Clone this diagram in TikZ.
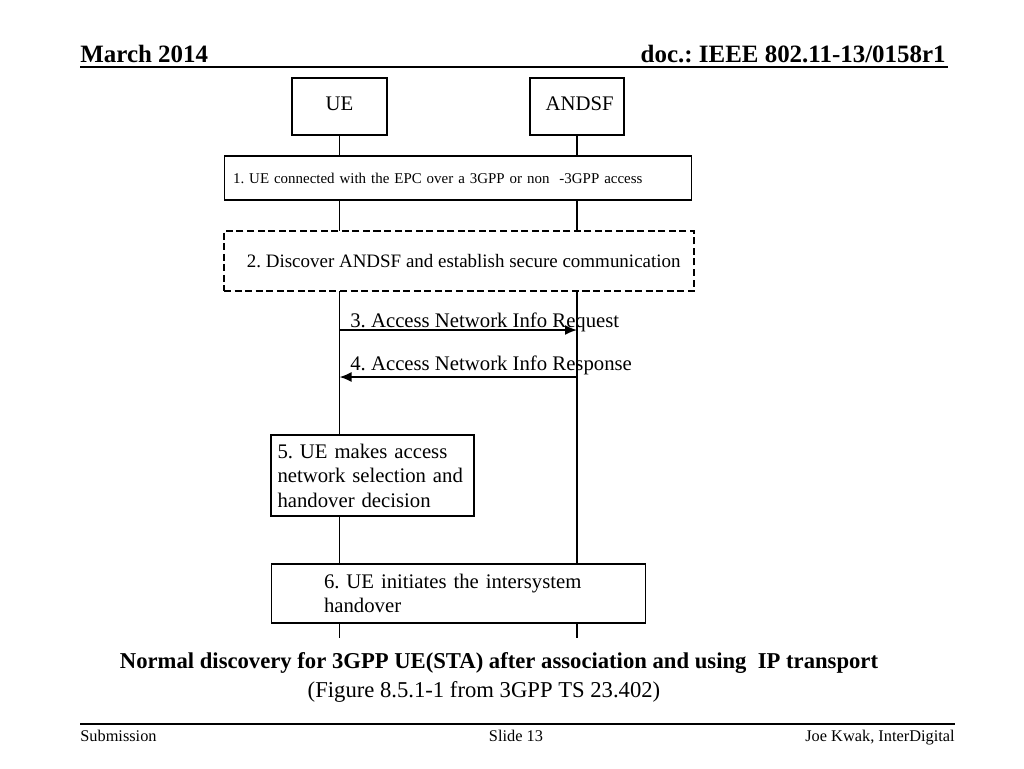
\documentclass[tikz,border=0pt]{standalone}
\usepackage{fontspec}
\setmainfont{Liberation Serif}
\usetikzlibrary{arrows, arrows.meta, backgrounds}
\frenchspacing
\newcommand\stepfont{\fontsize{11.8pt}{14pt}\selectfont}
\newcommand\raisedtext[1]{\raisebox{0.12cm}{#1}}
\tikzstyle{entity} = [rectangle, draw=black, line width=0.6pt, fill=white, minimum width=1.9cm, minimum height=1.14cm, font=\stepfont]
\tikzstyle{stepbox} = [rectangle, draw=black, line width=0.6pt, fill=white, align=left, font=\stepfont]
\tikzstyle{dashbox} = [rectangle, draw=black, line width=1pt, dash pattern=on 4pt off 2pt, fill=white, font=\fontsize{10.8pt}{13pt}\selectfont]
\tikzstyle{msg} = [line width=1pt,-{Latex[length=0.24cm,width=0.2cm]}]
\tikzstyle{lifeline} = [line width=0.6pt]
\tikzstyle{msgtext} = [inner sep=0pt, font=\stepfont]
\tikzstyle{headtext} = [inner sep=0pt, font=\fontsize{14.2pt}{16pt}\selectfont\bfseries]
\tikzstyle{foottext} = [inner sep=0pt, font=\fontsize{9.3pt}{11pt}\selectfont]
\tikzstyle{captext} = [inner sep=0pt, font=\fontsize{12.9pt}{15pt}\selectfont]
\begin{document}
\begin{tikzpicture}[x=0.02cm, y=-0.02cm]
	\useasboundingbox (0,0) rectangle (1024,768);

		% Header and footer
		\node (date) [headtext, anchor=base west] at (80,62) {March 2014};
		\node (docnum) [headtext, anchor=base east] at (946,62) {doc.: IEEE 802.11-13/0158r1};
		\draw [line width=1.2pt] (80,67) -- (948,67);
		\draw [line width=1.2pt] (80,724) -- (955,724);
		\node (submission) [foottext, anchor=base west] at (80,741) {Submission};
		\node (slide) [foottext, anchor=base] at (516,741) {Slide 13};
		\node (author) [foottext, anchor=base east] at (955,741) {Joe Kwak, InterDigital};

		% Draw the nodes
		\node (ue) [entity] at (339.5,106.5) {\raisedtext{UE}};
		\node (andsf) [entity, minimum width=1.88cm] at (577,106.5) {\raisedtext{\ ANDSF}};
		\node (step1) [stepbox, minimum width=9.36cm, minimum height=0.88cm, text width=9cm, font=\fontsize{8.5pt}{10pt}\selectfont] at (458,178) {1. UE connected with the EPC over a 3GPP or non \ -3GPP access};
		\node (step2) [dashbox, minimum width=9.4cm, minimum height=1.2cm] at (459,261) {\ \ 2. Discover ANDSF and establish secure communication};
		\node (step5) [stepbox, minimum width=4.06cm, minimum height=1.62cm, text width=3.8cm] at (372.5,475.5) {5. UE makes access\\ network selection and\\ handover decision};
		\node (step6) [stepbox, minimum width=7.5cm, minimum height=1.18cm, text width=5.38cm] at (458.5,593.5) {6. UE initiates the intersystem\\ handover};
		\coordinate (lineend) at (0,638);
		\coordinate (m3) at (0,330);
		\coordinate (m4) at (0,377);

		% Draw the lifelines
		\begin{scope}[on background layer]
		\fill [white] (0,0) rectangle (1024,768);
		\draw [lifeline] (ue.south) -- (ue.south |- lineend);
		\draw [lifeline] (andsf.south) -- (andsf.south |- lineend);
		\end{scope}

		% Draw the arrows
		\draw [msg] (ue |- m3) -- (andsf |- m3);
		\node (m3text) [msgtext, anchor=base west] at (350,327) {3. Access Network Info Request};
		\draw [msg] (andsf |- m4) -- (ue |- m4);
		\node (m4text) [msgtext, anchor=base west] at (350,370) {4. Access Network Info Response};

		% Caption
		\node (caption) [captext, anchor=base, font=\fontsize{12.9pt}{15pt}\selectfont\bfseries] at (499,668) {Normal discovery for 3GPP UE(STA) after association and using \ IP transport};
		\node (source) [captext, anchor=base] at (484,697) {(Figure 8.5.1-1 from 3GPP TS 23.402)};

\end{tikzpicture}
\end{document}
